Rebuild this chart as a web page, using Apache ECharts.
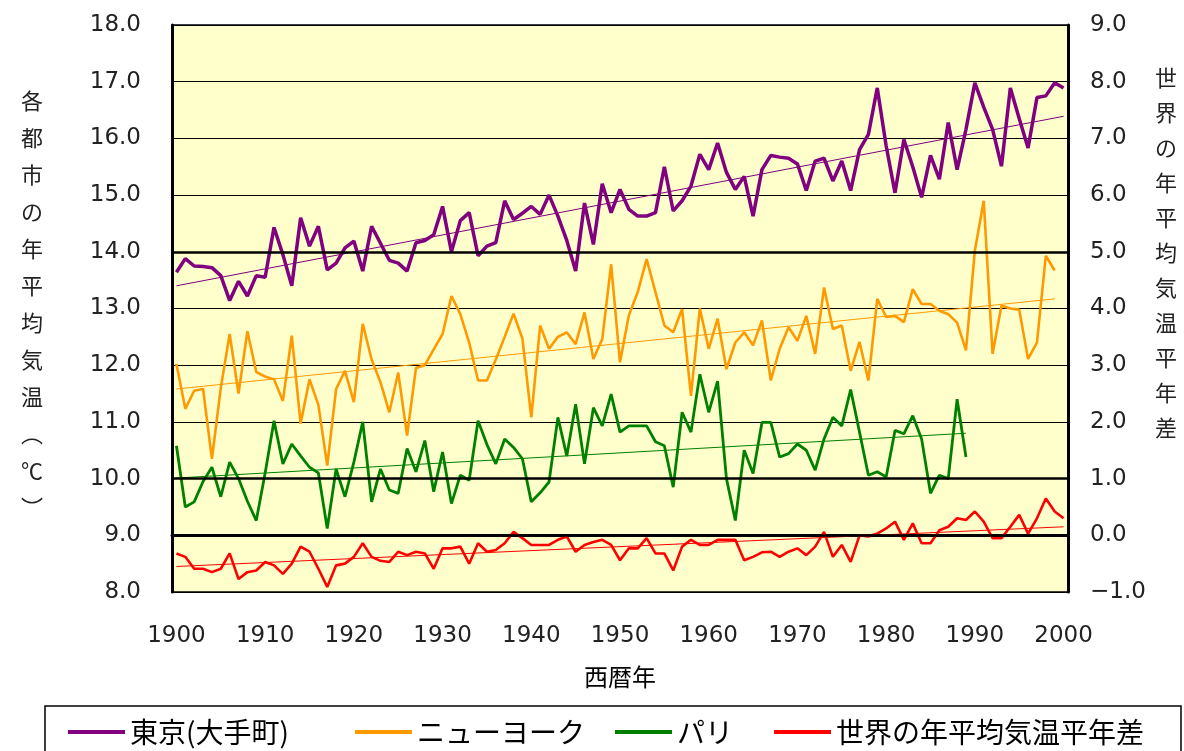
<!DOCTYPE html>
<html><head><meta charset="utf-8">
<script src="https://cdn.jsdelivr.net/npm/echarts@6/dist/echarts.min.js"></script>
<style>html,body{margin:0;padding:0;background:#fff;}#c{width:1184px;height:751px;}</style>
</head><body><div id="c"></div>
<script>
const startYear = 1900, endYear = 2000;
const years = [];
for (let y = startYear; y <= endYear; y++) years.push(String(y));

const seriesNames = ['東京(大手町)', 'ニューヨーク', 'パリ', '世界の年平均気温平年差'];

// 東京(大手町) 1900-2000
const tokyo = [13.64,13.88,13.75,13.74,13.72,13.58,13.14,13.48,13.22,13.58,
13.55,14.43,13.95,13.4,14.6,14.1,14.45,13.68,13.8,14.07,
14.19,13.66,14.45,14.15,13.85,13.8,13.66,14.16,14.2,14.3,
14.8,14.0,14.55,14.69,13.93,14.1,14.16,14.9,14.57,14.68,
14.8,14.66,15.0,14.63,14.2,13.66,14.86,14.13,15.2,14.69,
15.1,14.75,14.63,14.63,14.69,15.5,14.72,14.9,15.16,15.72,
15.45,15.92,15.4,15.1,15.33,14.63,15.45,15.7,15.67,15.65,
15.55,15.08,15.6,15.65,15.25,15.6,15.08,15.8,16.07,16.89,
15.87,15.04,15.98,15.5,14.96,15.7,15.28,16.28,15.45,16.16,
16.98,16.55,16.16,15.51,16.89,16.35,15.83,16.72,16.75,16.98,
16.89];

// ニューヨーク 1900-1999
const newYork = [12.02,11.23,11.55,11.58,10.35,11.6,12.55,11.5,12.6,11.88,
11.8,11.75,11.37,12.52,10.97,11.75,11.3,10.23,11.58,11.9,
11.35,12.73,12.1,11.7,11.17,11.87,10.76,11.95,12.0,12.28,
12.55,13.22,12.9,12.4,11.73,11.73,12.1,12.5,12.91,12.47,
11.08,12.7,12.29,12.5,12.58,12.37,12.93,12.11,12.46,13.78,
12.05,12.88,13.29,13.87,13.29,12.7,12.58,12.99,11.46,13.0,
12.29,12.82,11.93,12.4,12.58,12.35,12.79,11.73,12.29,12.67,
12.43,12.87,12.2,13.37,12.64,12.7,11.9,12.41,11.73,13.17,
12.85,12.87,12.76,13.34,13.08,13.08,12.96,12.9,12.75,12.26,
14.02,14.9,12.2,13.05,13.0,12.98,12.11,12.4,13.93,13.67];

// パリ 1900-1989
const paris = [10.58,9.5,9.59,9.95,10.2,9.68,10.29,10.0,9.6,9.26,
10.1,11.02,10.26,10.61,10.4,10.2,10.1,9.12,10.17,9.68,
10.29,11.0,9.59,10.17,9.8,9.74,10.53,10.12,10.67,9.77,
10.47,9.56,10.06,9.97,11.02,10.6,10.26,10.7,10.55,10.35,
9.59,9.75,9.94,11.08,10.4,11.31,10.26,11.25,10.93,11.49,
10.82,10.93,10.93,10.93,10.65,10.58,9.85,11.17,10.82,11.84,
11.17,11.72,10.0,9.26,10.5,10.09,10.99,10.99,10.38,10.44,
10.61,10.5,10.15,10.7,11.08,10.93,11.57,10.82,10.06,10.12,
10.03,10.85,10.79,11.11,10.7,9.74,10.06,10.0,11.4,10.38];

// 世界の年平均気温平年差 1900-2000 (right axis)
const world = [-0.32,-0.38,-0.59,-0.59,-0.65,-0.59,-0.32,-0.77,-0.65,-0.62,
-0.47,-0.53,-0.68,-0.5,-0.2,-0.29,-0.59,-0.91,-0.53,-0.5,
-0.38,-0.14,-0.38,-0.45,-0.47,-0.29,-0.35,-0.29,-0.32,-0.59,
-0.23,-0.23,-0.2,-0.5,-0.14,-0.29,-0.26,-0.14,0.06,-0.05,
-0.17,-0.17,-0.17,-0.08,-0.02,-0.29,-0.17,-0.12,-0.08,-0.17,
-0.44,-0.23,-0.23,-0.05,-0.32,-0.32,-0.62,-0.2,-0.08,-0.17,
-0.17,-0.08,-0.08,-0.08,-0.44,-0.38,-0.3,-0.29,-0.38,-0.29,
-0.23,-0.35,-0.2,0.06,-0.38,-0.17,-0.47,0.0,-0.02,0.03,
0.12,0.24,-0.08,0.21,-0.14,-0.14,0.09,0.15,0.3,0.27,
0.42,0.24,-0.05,-0.05,0.15,0.36,0.03,0.3,0.65,0.42,
0.3];

// trend line end points [year, value]
const tokyoTrend = [['1900', 13.4], ['2000', 16.39]];
const newYorkTrend = [['1900', 11.58], ['1999', 13.17]];
const parisTrend = [['1900', 10.01], ['1989', 10.8]];
const worldTrend = [['1900', -0.55], ['2000', 0.15]];

const leftTicks = {min: 8, max: 18, interval: 1};
const rightTicks = {min: -1, max: 9, interval: 1};
const boldGrid = [14, 10, 9];

const colors = ['#800080', '#FF9900', '#008000', '#FF0000'];
const CJK = '"Noto Sans CJK JP", sans-serif';
const NUM = '"DejaVu Sans", sans-serif';

const chart = echarts.init(document.getElementById('c'), null, {renderer: 'canvas'});

function lineSeries(name, data, color, width, yIdx) {
  return {name, type: 'line', data, yAxisIndex: yIdx, symbol: 'none', z: 3,
    lineStyle: {color, width}, itemStyle: {color}, animation: false};
}
function trendSeries(data, color, yIdx) {
  return {type: 'line', data, yAxisIndex: yIdx, symbol: 'none', z: 4,
    lineStyle: {color, width: 1}, itemStyle: {color}, animation: false, silent: true};
}

const legendX = [68, 355, 615, 774];

chart.setOption({
  animation: false,
  backgroundColor: '#fff',
  grid: {left: 172, right: 116, top: 25, bottom: 159, show: true,
    backgroundColor: '#FFFFCC', borderColor: '#000', borderWidth: 1.5},
  xAxis: {
    type: 'category', data: years, boundaryGap: true,
    name: '西暦年', nameLocation: 'middle', nameGap: 73,
    nameTextStyle: {fontFamily: CJK, fontSize: 24, color: '#000'},
    axisLine: {lineStyle: {color: '#000', width: 3}},
    axisTick: {inside: true, length: 6, interval: 9, alignWithLabel: true, lineStyle: {color: '#000', width: 1.5}},
    axisLabel: {interval: 9, margin: 33, fontFamily: NUM, fontSize: 23, color: '#222'},
    splitLine: {show: false}
  },
  yAxis: [
    {type: 'value', min: leftTicks.min, max: leftTicks.max, interval: leftTicks.interval, position: 'left',
     axisLine: {show: true, lineStyle: {color: '#000', width: 3}},
     axisTick: {show: false},
     axisLabel: {margin: 31, fontFamily: NUM, fontSize: 23, color: '#222', formatter: v => v.toFixed(1)},
     splitLine: {show: true, lineStyle: {color: '#000', width: 1.2}}},
    {type: 'value', min: rightTicks.min, max: rightTicks.max, interval: rightTicks.interval, position: 'right',
     axisLine: {show: true, lineStyle: {color: '#000', width: 3}},
     axisTick: {show: false},
     axisLabel: {margin: 22, fontFamily: NUM, fontSize: 23, color: '#222', formatter: v => v.toFixed(1).replace('-', '−')},
     splitLine: {show: false}}
  ],
  legend: seriesNames.map((n, i) => ({
    data: [n], left: legendX[i], top: 718, icon: 'rect', itemWidth: 57, itemHeight: 4,
    itemGap: 0, padding: 0, selectedMode: false,
    textStyle: {fontFamily: CJK, fontSize: 28, color: '#000'}
  })),
  graphic: [
    {type: 'rect', z: 0, shape: {x: 45, y: 706, width: 1136, height: 70},
     style: {fill: '#fff', stroke: '#000', lineWidth: 1.5}},
    {type: 'text', x: 32, y: 82, style: {text: ['各','都','市','の','年','平','均','気','温','︵','℃','︶'].join('\n'),
      align: 'center', verticalAlign: 'top', lineHeight: 37, fontSize: 22, fontFamily: CJK, fill: '#222'}},
    {type: 'text', x: 1166, y: 60, style: {text: ['世','界','の','年','平','均','気','温','平','年','差'].join('\n'),
      align: 'center', verticalAlign: 'top', lineHeight: 35, fontSize: 22, fontFamily: CJK, fill: '#222'}}
  ],
  series: [
    {type: 'line', data: [], yAxisIndex: 0, z: 1, silent: true,
     markLine: {silent: true, symbol: 'none', label: {show: false}, animation: false,
       lineStyle: {color: '#000', width: 2.6, type: 'solid'},
       data: boldGrid.map(v => ({yAxis: v}))}},
    lineSeries(seriesNames[0], tokyo, colors[0], 3.5, 0),
    lineSeries(seriesNames[1], newYork, colors[1], 2.6, 0),
    lineSeries(seriesNames[2], paris, colors[2], 2.8, 0),
    lineSeries(seriesNames[3], world, colors[3], 2.6, 1),
    trendSeries(tokyoTrend, colors[0], 0),
    trendSeries(newYorkTrend, colors[1], 0),
    trendSeries(parisTrend, colors[2], 0),
    trendSeries(worldTrend, colors[3], 1)
  ]
});
</script></body></html>
